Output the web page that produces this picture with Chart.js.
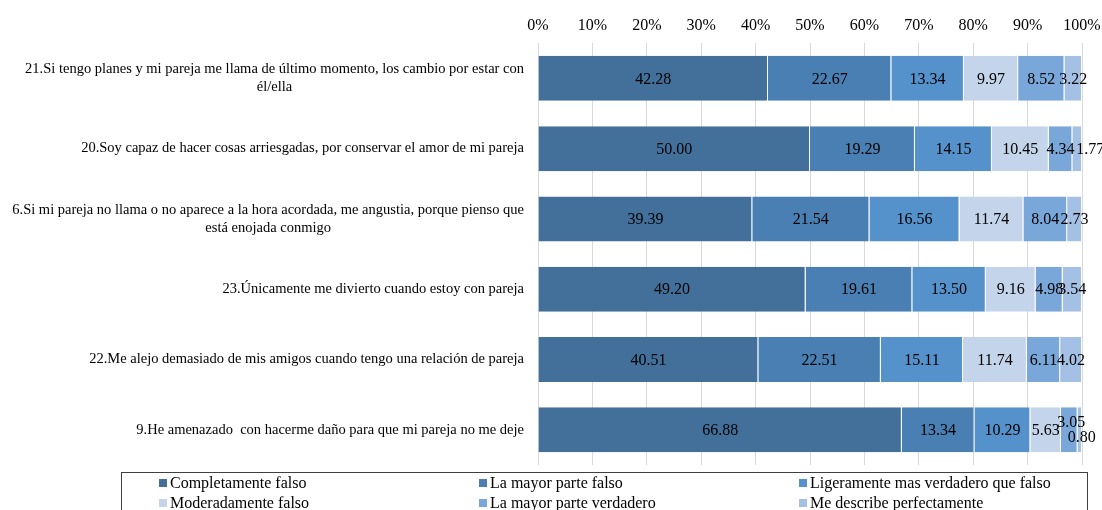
<!DOCTYPE html>
<html>
<head>
<meta charset="utf-8">
<script src="https://cdn.jsdelivr.net/npm/chart.js@4"></script>
<style>
  body { margin: 0; background: #fff; }
  #wrap { width: 1102px; height: 510px; }
</style>
</head>
<body>
<div id="wrap"><canvas id="barChart"></canvas></div>
<script>
const categories = [
  ['21.Si tengo planes y mi pareja me llama de último momento, los cambio por estar con', 'él/ella'],
  ['20.Soy capaz de hacer cosas arriesgadas, por conservar el amor de mi pareja'],
  ['6.Si mi pareja no llama o no aparece a la hora acordada, me angustia, porque pienso que', 'está enojada conmigo'],
  ['23.Únicamente me divierto cuando estoy con pareja'],
  ['22.Me alejo demasiado de mis amigos cuando tengo una relación de pareja'],
  ['9.He amenazado  con hacerme daño para que mi pareja no me deje']
];
const seriesNames = [
  'Completamente falso',
  'La mayor parte falso',
  'Ligeramente mas verdadero que falso',
  'Moderadamente falso',
  'La mayor parte verdadero',
  'Me describe perfectamente'
];
const completamenteFalso = [42.28, 50.00, 39.39, 49.20, 40.51, 66.88];
const mayorParteFalso = [22.67, 19.29, 21.54, 19.61, 22.51, 13.34];
const ligeramenteVerdadero = [13.34, 14.15, 16.56, 13.50, 15.11, 10.29];
const moderadamenteFalso = [9.97, 10.45, 11.74, 9.16, 11.74, 5.63];
const mayorParteVerdadero = [8.52, 4.34, 8.04, 4.98, 6.11, 3.05];
const describePerfectamente = [3.22, 1.77, 2.73, 3.54, 4.02, 0.80];
const tickLabels = ['0%', '10%', '20%', '30%', '40%', '50%', '60%', '70%', '80%', '90%', '100%'];

const colors = ['#42709B', '#4A7FB3', '#5592CB', '#C4D5EB', '#79A7D9', '#A4C0E4'];
const FONT = '"Liberation Serif", "Times New Roman", serif';

// small nudges for cramped labels (dataset, category) -> [dx, dy]
const nudges = { '5,1': [13, 0], '4,5': [2, -8], '5,5': [2, 7] };

const valueLabels = {
  id: 'valueLabels',
  afterDatasetsDraw(chart) {
    const ctx = chart.ctx;
    ctx.save();
    ctx.font = '16px ' + FONT;
    ctx.fillStyle = '#000';
    ctx.textAlign = 'center';
    ctx.textBaseline = 'middle';
    chart.data.datasets.forEach((ds, di) => {
      chart.getDatasetMeta(di).data.forEach((bar, i) => {
        const p = bar.getProps(['x', 'y', 'base'], true);
        const n = nudges[di + ',' + i] || [0, 0];
        ctx.fillText(ds.data[i].toFixed(2), (p.x + p.base) / 2 + n[0], p.y + 1 + n[1]);
      });
    });
    ctx.restore();
  }
};

const catLabels = {
  id: 'catLabels',
  afterDraw(chart) {
    const ctx = chart.ctx;
    const y = chart.scales.y;
    const right = chart.chartArea.left - 14;
    ctx.save();
    ctx.font = '14.5px ' + FONT;
    ctx.fillStyle = '#000';
    ctx.textAlign = 'center';
    ctx.textBaseline = 'middle';
    categories.forEach((lines, i) => {
      const w = Math.max(...lines.map(l => ctx.measureText(l).width));
      const cx = right - w / 2;
      const cy = y.getPixelForValue(i);
      const lh = 18;
      lines.forEach((l, k) => {
        ctx.fillText(l, cx, cy + (k - (lines.length - 1) / 2) * lh);
      });
    });
    ctx.restore();
  }
};

const boxLegend = {
  id: 'boxLegend',
  afterDraw(chart) {
    const ctx = chart.ctx;
    ctx.save();
    ctx.strokeStyle = '#404040';
    ctx.lineWidth = 1;
    ctx.strokeRect(121.5, 472.5, 966, 60);
    ctx.font = '16px ' + FONT;
    ctx.textBaseline = 'middle';
    ctx.textAlign = 'left';
    const cols = [159, 479, 799];
    const rows = [483, 503];
    chart.data.datasets.forEach((ds, i) => {
      const x = cols[i % 3];
      const yy = rows[Math.floor(i / 3)];
      ctx.fillStyle = ds.backgroundColor;
      ctx.fillRect(x, yy - 4, 8, 8);
      ctx.fillStyle = '#000';
      ctx.fillText(ds.label, x + 11, yy + 1);
    });
    ctx.restore();
  }
};

const allSeries = [completamenteFalso, mayorParteFalso, ligeramenteVerdadero,
  moderadamenteFalso, mayorParteVerdadero, describePerfectamente];

new Chart(document.getElementById('barChart'), {
  type: 'bar',
  data: {
    labels: categories,
    datasets: allSeries.map((d, i) => ({
      label: seriesNames[i],
      data: d,
      backgroundColor: colors[i],
      borderColor: 'rgba(255,255,255,0.35)',
      borderWidth: { right: 1 },
      borderSkipped: false,
      barPercentage: 0.64,
      categoryPercentage: 1
    }))
  },
  options: {
    indexAxis: 'y',
    responsive: true,
    maintainAspectRatio: false,
    animation: false,
    layout: { padding: { left: 530, right: 20, top: 8, bottom: 45 } },
    plugins: {
      legend: { display: false },
      tooltip: { enabled: false }
    },
    scales: {
      x: {
        stacked: true,
        position: 'top',
        min: 0,
        max: 100,
        afterFit(scale) {
          // let the end tick labels hang over the padding
          scale.paddingLeft = 0;
          scale.paddingRight = 0;
        },
        ticks: {
          stepSize: 10,
          color: '#000',
          font: { family: FONT, size: 16 },
          padding: 8,
          callback: (v, i) => tickLabels[i]
        },
        grid: { color: '#D9D9D9', drawTicks: false },
        border: { display: false }
      },
      y: {
        stacked: true,
        ticks: { display: false },
        grid: { display: false },
        border: { display: false }
      }
    }
  },
  plugins: [valueLabels, catLabels, boxLegend]
});
</script>
</body>
</html>
